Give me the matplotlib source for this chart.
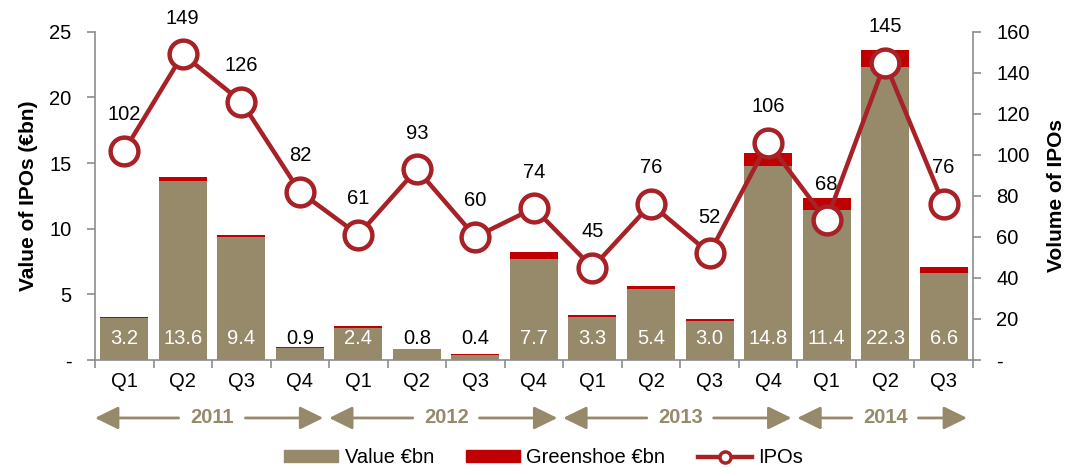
import matplotlib
matplotlib.use("Agg")
import matplotlib.pyplot as plt
from matplotlib.lines import Line2D
from matplotlib.patches import Patch
from matplotlib.ticker import FuncFormatter
import numpy as np

plt.rcParams["font.family"] = ["Liberation Sans", "DejaVu Sans"]

quarters = ["Q1", "Q2", "Q3", "Q4", "Q1", "Q2", "Q3", "Q4",
            "Q1", "Q2", "Q3", "Q4", "Q1", "Q2", "Q3"]
years = ["2011", "2012", "2013", "2014"]
year_quarters = [4, 4, 4, 3]
value_bn = [3.2, 13.6, 9.4, 0.9, 2.4, 0.8, 0.4, 7.7, 3.3, 5.4, 3.0, 14.8, 11.4, 22.3, 6.6]
greenshoe_bn = [0.1, 0.35, 0.1, 0.05, 0.2, 0.05, 0.05, 0.5, 0.15, 0.25, 0.1, 1.0, 0.9, 1.3, 0.5]
ipos = [102, 149, 126, 82, 61, 93, 60, 74, 45, 76, 52, 106, 68, 145, 76]

TAN = "#968A6B"
RED = "#C00000"
LINE = "#A82126"
GREY = "#8C8C8C"
FS = 14.5

x = np.arange(len(quarters))
fig, ax = plt.subplots(figsize=(10.87, 4.68), dpi=100)
fig.subplots_adjust(left=0.0874, right=0.895, top=0.932, bottom=0.231)

ax.bar(x, value_bn, width=0.82, color=TAN, zorder=2)
ax.bar(x, greenshoe_bn, width=0.82, bottom=value_bn, color=RED, zorder=2)
for xi, v in zip(x, value_bn):
    ax.text(xi, 1.65, f"{v:.1f}", ha="center", va="center", fontsize=FS,
            color="white" if v > 1.5 else "black", zorder=3)

ax.set_xlim(-0.5, len(x) - 0.5)
ax.set_ylim(0, 25)
ax.set_yticks(range(0, 26, 5))
ax.yaxis.set_major_formatter(FuncFormatter(lambda v, p: "-" if v == 0 else f"{v:.0f}"))
ax.set_xticks(x)
ax.set_xticklabels(quarters)
ax.set_xticks(np.arange(-0.5, len(x), 1.0), minor=True)
ax.tick_params(axis="x", which="major", length=0, pad=9, labelsize=FS)
ax.tick_params(axis="x", which="minor", length=6, color=GREY, width=1.2)
ax.tick_params(axis="y", length=6, color=GREY, width=1.2, labelsize=FS, pad=11)
ax.set_ylabel("Value of IPOs (€bn)", fontsize=15, fontweight="bold", labelpad=8)
for s in ["top", "right"]:
    ax.spines[s].set_visible(False)
for s in ["left", "bottom"]:
    ax.spines[s].set_color(GREY)
    ax.spines[s].set_linewidth(1.2)

ax2 = ax.twinx()
ax2.plot(x, ipos, color=LINE, lw=3.2, marker="o", markersize=20,
         markerfacecolor="white", markeredgecolor=LINE, markeredgewidth=3.2, zorder=4)
for xi, n in zip(x, ipos):
    ax2.annotate(str(n), (xi, n), textcoords="offset points", xytext=(0, 26),
                 ha="center", va="center", fontsize=FS)
ax2.set_ylim(0, 160)
ax2.set_yticks(range(0, 161, 20))
ax2.yaxis.set_major_formatter(FuncFormatter(lambda v, p: "-" if v == 0 else f"{v:.0f}"))
ax2.tick_params(axis="y", length=6, color=GREY, width=1.2, labelsize=FS, pad=11)
ax2.set_ylabel("Volume of IPOs", fontsize=15, fontweight="bold", labelpad=12)
for s in ["top", "left", "bottom"]:
    ax2.spines[s].set_visible(False)
ax2.spines["right"].set_color(GREY)
ax2.spines["right"].set_linewidth(1.2)

# year bands with arrows under the quarter labels
tr = ax.get_xaxis_transform()
start = -0.5
for yr, nq in zip(years, year_quarters):
    end = start + nq
    mid = (start + end) / 2
    arrow = dict(arrowstyle="-|>,head_length=0.55,head_width=0.27", color=TAN, lw=2,
                 mutation_scale=26, shrinkA=0, shrinkB=0)
    ax.annotate("", xy=(start + 0.0, -0.177), xytext=(mid - 0.57, -0.177),
                xycoords=tr, textcoords=tr, arrowprops=arrow, annotation_clip=False)
    ax.annotate("", xy=(end - 0.1, -0.177), xytext=(mid + 0.57, -0.177),
                xycoords=tr, textcoords=tr, arrowprops=arrow, annotation_clip=False)
    ax.text(mid, -0.177, yr, transform=tr, ha="center", va="center",
            fontsize=FS, fontweight="bold", color=TAN)
    start = end

handles = [Patch(color=TAN), Patch(color=RED),
           Line2D([], [], color=LINE, lw=3.2, marker="o", markersize=8,
                  markerfacecolor="white", markeredgecolor=LINE, markeredgewidth=2.5)]
fig.legend(handles, ["Value €bn", "Greenshoe €bn", "IPOs"], loc="center",
           bbox_to_anchor=(0.5, 0.022), ncol=3, frameon=False, fontsize=FS,
           handlelength=2.7, handleheight=0.55, columnspacing=1.6, handletextpad=0.3)

fig.savefig("out.png", dpi=100)
